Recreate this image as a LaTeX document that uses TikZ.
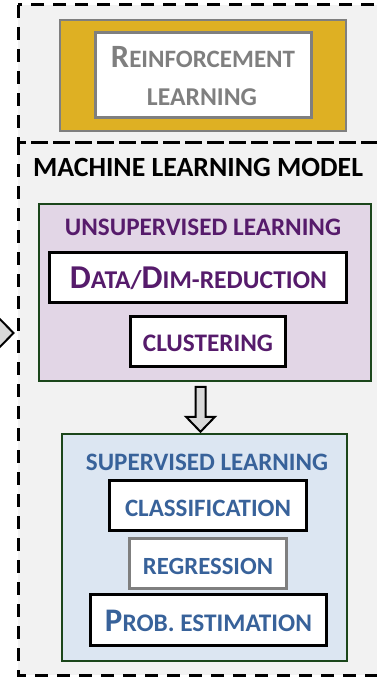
\documentclass[tikz,border=0pt]{standalone}
\usepackage{fontspec}
\setmainfont{Carlito}
\usetikzlibrary{shadows,calc}

\definecolor{panelgray}{HTML}{F2F2F2}
\definecolor{arrowgray}{HTML}{D9D9D9}
\definecolor{rlgold}{HTML}{DEB023}
\definecolor{rlgray}{HTML}{7F7F7F}
\definecolor{unsupfill}{HTML}{E2D6E6}
\definecolor{supfill}{HTML}{DCE6F2}
\definecolor{groupgreen}{HTML}{1B461B}
\definecolor{unsuptext}{HTML}{561B6B}
\definecolor{suptext}{HTML}{38629A}

% small-caps look: a large initial followed by smaller capitals
\newcommand\bigini[1]{{\fontsize{26}{26}\selectfont #1}}
% scale a label to a given width (in pt)
\newcommand\fitto[2]{\resizebox{#1pt}{!}{#2}}

\tikzset{
  dashedge/.style={draw=black, line width=3pt, dash pattern=on 13pt off 9pt},
  groupbox/.style={draw=groupgreen, line width=2.5pt, inner sep=0pt},
  itembox/.style={draw=black, line width=3pt, fill=white, inner sep=0pt,
    minimum height=50pt,
    drop shadow={opacity=0.25, shadow xshift=1.5pt, shadow yshift=-1.5pt}},
  lbl/.style={inner sep=0pt, anchor=base,
    font=\fontsize{20}{24}\selectfont\bfseries},
  blockarrow/.style={draw=black, fill=arrowgray, line width=2pt, line join=miter},
}

\begin{document}
\begin{tikzpicture}[x=1pt, y=-1pt]
\useasboundingbox (0,0) rectangle (376,677);

% dashed frames on a light gray panel
\fill[panelgray] (18,5) rectangle (400,675);
\draw[dashedge] (18,5) rectangle (400,142);
\draw[dashedge] (18,142) rectangle (400,675);

% incoming arrow head on the left
\draw[blockarrow] (-8,311) -- (13.5,333) -- (-8,355) -- cycle;

% reinforcement learning block
\node[draw=rlgray, fill=rlgold, line width=2pt, inner sep=0pt,
      minimum width=286pt, minimum height=111pt] (rlouter) at (203,75.5) {};
\node[draw=rlgray, fill=white, line width=3pt, inner sep=0pt,
      minimum width=216pt, minimum height=85pt,
      drop shadow={opacity=0.3, shadow xshift=1.5pt, shadow yshift=-1.5pt}]
      (rlinner) at (203.5,75) {};
\node[lbl, text=rlgray] (rlt1) at (203,67) {\fitto{184}{\bigini{R}EINFORCEMENT}};
\node[lbl, text=rlgray] (rlt2) at (202,106) {\fitto{110}{LEARNING}};

% machine learning model title
\node[lbl, text=black] (mlm) at (198,176) {\fitto{330}{MACHINE LEARNING MODEL}};

% unsupervised learning group
\node[groupbox, fill=unsupfill, minimum width=332pt, minimum height=177pt]
      (unsup) at (205,292.5) {};
\node[lbl, text=unsuptext] (unsupt) at (203,235) {\fitto{276}{UNSUPERVISED LEARNING}};
\node[itembox, minimum width=297pt] (dimred) at (198,277.5) {};
\node[lbl, text=unsuptext] (dimredt) at (198.5,288)
      {\fitto{257}{\bigini{D}ATA/\bigini{D}IM-REDUCTION}};
\node[itembox, minimum width=155pt] (clust) at (208,341.5) {};
\node[lbl, text=unsuptext] (clustt) at (208,351.7) {\fitto{130}{CLUSTERING}};

% supervised learning group
\node[groupbox, fill=supfill, minimum width=285pt, minimum height=227pt]
      (sup) at (204.5,547.5) {};
\node[lbl, text=suptext] (supt) at (207,470) {\fitto{242}{SUPERVISED LEARNING}};
\node[itembox, minimum width=197pt] (classif) at (208,505.5) {};
\node[lbl, text=suptext] (classift) at (208,516) {\fitto{166}{CLASSIFICATION}};
\node[itembox, draw=rlgray, minimum width=157pt] (regr) at (208,563.5) {};
\node[lbl, text=suptext] (regrt) at (208,574) {\fitto{130}{REGRESSION}};
\node[itembox, minimum width=236pt, minimum height=51pt] (prob) at (208.5,620) {};
\node[lbl, text=suptext] (probt) at (208.5,631.7)
      {\fitto{207}{\bigini{P}ROB. ESTIMATION}};

% block arrow from unsupervised to supervised learning
\coordinate (arrowx) at (200.5,0);
\coordinate (tip) at ([yshift=1pt]sup.north -| arrowx);
\draw[blockarrow] (tip) -- ++(-14.5,-15) -- ++(9.5,0) -- ++(0,-30)
      -- ++(10,0) -- ++(0,30) -- ++(9.5,0) -- cycle;
\end{tikzpicture}
\end{document}
